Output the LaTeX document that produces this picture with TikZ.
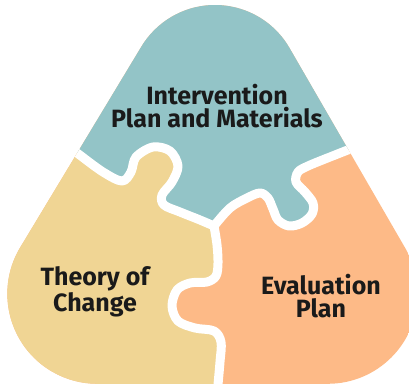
\documentclass[tikz,border=0pt]{standalone}
\usepackage{fontspec}
\setmainfont{Fira Sans}

\definecolor{interventioncol}{HTML}{93C4C7}
\definecolor{theorycol}{HTML}{F0D594}
\definecolor{evaluationcol}{HTML}{FDBA87}
\definecolor{inkcol}{HTML}{1A1A1A}

\tikzset{
  piece text/.style={align=center, text=inkcol,
    font=\fontsize{25}{23}\selectfont\bfseries},
  gap/.style={white, line width=9pt, line join=round, line cap=round}
}

% the three cuts between the pieces, all starting or ending at the middle
\newcommand{\cutleft}{-- plot[smooth, tension=0.55] coordinates {(50,133) (77,153) (103,172) (122,181)
  (131,172) (136,157) (153,147) (170,151) (178,166) (172,182) (162,195) (164,205) (180,212)
  (200,220) (214,226)}}
\newcommand{\cutright}{-- plot[smooth, tension=0.55] coordinates {(214,226) (230,208) (247,198)
  (260,193) (268,198) (273,209) (278,220) (289,226) (302,223) (312,214) (313,203) (305,192)
  (296,182) (298,172) (308,166) (330,157) (353,148) (375,140)}}
\newcommand{\cutdown}{-- plot[smooth, tension=0.55] coordinates {(214,226) (217,245) (218,263)
  (216,276) (207,282) (190,283) (177,290) (172,306) (178,321) (195,328) (214,331) (221,342)
  (220,362) (217,395)}}

\begin{document}
\begin{tikzpicture}[x=1pt, y=-1pt]
  \useasboundingbox (0,0) rectangle (409,387);
  \coordinate (mid) at (214,226);
  \coordinate (leftend) at (50,133);

  \begin{scope}
    \clip (0,0) rectangle (409,387);
    % rounded triangle
    \clip (97.3,383.8) -- (327.7,383.8) arc[start angle=90, end angle=-30, radius=90]
      -- (289.5,48) arc[start angle=-30, end angle=-150, radius=86]
      -- (19.4,248.8) arc[start angle=210, end angle=90, radius=90] -- cycle;
    \fill[evaluationcol] (0,0) rectangle (409,387);
    \fill[interventioncol] (40,-10) \cutleft \cutright -- (420,-10) -- cycle;
    \fill[theorycol] (-20,120) \cutleft \cutdown -- (-20,400) -- cycle;
    \draw[gap] (leftend) \cutleft;
    \draw[gap] (mid) \cutright;
    \draw[gap] (mid) \cutdown;
  \end{scope}

  \node[piece text] (intervention) at (217,106) {Intervention\\Plan and Materials};
  \node[piece text] (theory) at (95,292) {Theory of\\Change};
  \node[piece text] (evaluation) at (321,296) {Evaluation\\Plan};
\end{tikzpicture}
\end{document}
